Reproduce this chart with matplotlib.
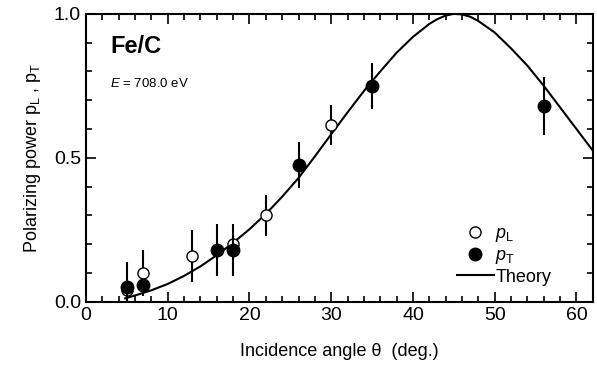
import numpy as np
import matplotlib.pyplot as plt
from matplotlib.ticker import MultipleLocator
from matplotlib.lines import Line2D

plt.rcParams['font.family'] = ['Liberation Sans', 'DejaVu Sans']
plt.rcParams['mathtext.fontset'] = 'custom'
plt.rcParams['mathtext.rm'] = 'Liberation Sans'
plt.rcParams['mathtext.it'] = 'Liberation Sans:italic'

angle_L = [5, 7, 13, 18, 22, 30]
p_L = [0.04, 0.10, 0.16, 0.20, 0.30, 0.615]
err_L = [0.0, 0.08, 0.09, 0.0, 0.07, 0.07]

angle_T = [5, 7, 16, 18, 26, 35, 56]
p_T = [0.05, 0.06, 0.18, 0.18, 0.475, 0.75, 0.68]
err_T = [0.09, 0.0, 0.09, 0.09, 0.08, 0.08, 0.10]

# theory curve points
theory_x = [4.8, 6, 8, 10, 12, 14, 16, 18, 20, 22, 24, 26, 28, 30, 32, 34, 36,
            38, 40, 42, 43, 44, 45, 46, 47, 48, 50, 52, 54, 56, 58, 60, 62]
theory_y = [0.012, 0.022, 0.04, 0.062, 0.09, 0.123, 0.162, 0.205, 0.252, 0.305,
            0.365, 0.43, 0.505, 0.582, 0.658, 0.732, 0.80, 0.865, 0.92, 0.965,
            0.982, 0.994, 1.0, 0.998, 0.99, 0.975, 0.935, 0.88, 0.82, 0.75,
            0.675, 0.60, 0.525]

fig = plt.figure(figsize=(5.97, 3.74), dpi=100)
ax = fig.add_axes([0.144, 0.193, 0.849, 0.77])

ax.plot(theory_x, theory_y, color='black', lw=1.5, zorder=2)

ax.errorbar(angle_L, p_L, yerr=err_L, fmt='o', mfc='white', mec='black',
            ecolor='black', elinewidth=1.5, capsize=0, ms=8, mew=1.0, zorder=3)
ax.errorbar(angle_T, p_T, yerr=err_T, fmt='o', mfc='black', mec='black',
            ecolor='black', elinewidth=1.5, capsize=0, ms=9, zorder=4)

ax.set_xlim(0, 62)
ax.set_ylim(0, 1.0)
ax.xaxis.set_major_locator(MultipleLocator(10))
ax.xaxis.set_minor_locator(MultipleLocator(2))
ax.yaxis.set_major_locator(MultipleLocator(0.5))
ax.yaxis.set_minor_locator(MultipleLocator(0.1))
ax.yaxis.set_major_formatter(plt.FormatStrFormatter('%.1f'))
ax.tick_params(which='both', direction='in', top=True, right=True, width=1.2,
               labelsize=14)
ax.tick_params(which='major', length=7)
ax.tick_params(which='minor', length=4)
for s in ax.spines.values():
    s.set_linewidth(1.5)

ax.set_xlabel('Incidence angle \u03b8  (deg.)', fontsize=13, labelpad=14)
ax.set_ylabel('Polarizing power p$_{\\rm L}$ , p$_{\\rm T}$', fontsize=13,
              labelpad=8)

ax.text(3.0, 0.865, 'Fe/C', fontsize=17, fontweight='bold')
ax.text(3.0, 0.745, '$\\mathit{E}$ = 708.0 eV', fontsize=9.5)

handles = [
    Line2D([], [], ls='none', marker='o', mfc='white', mec='black', ms=8),
    Line2D([], [], ls='none', marker='o', mfc='black', mec='black', ms=9),
    Line2D([], [], color='black', lw=1.5),
]
labels = ['$\\mathit{p}_{\\rm L}$', '$\\mathit{p}_{\\rm T}$', 'Theory']
ax.legend(handles, labels, loc='lower right', bbox_to_anchor=(0.95, 0.0),
          frameon=False, fontsize=13, handlelength=2.0, handletextpad=0.1,
          labelspacing=0.15)

fig.savefig('out.png', dpi=100)
